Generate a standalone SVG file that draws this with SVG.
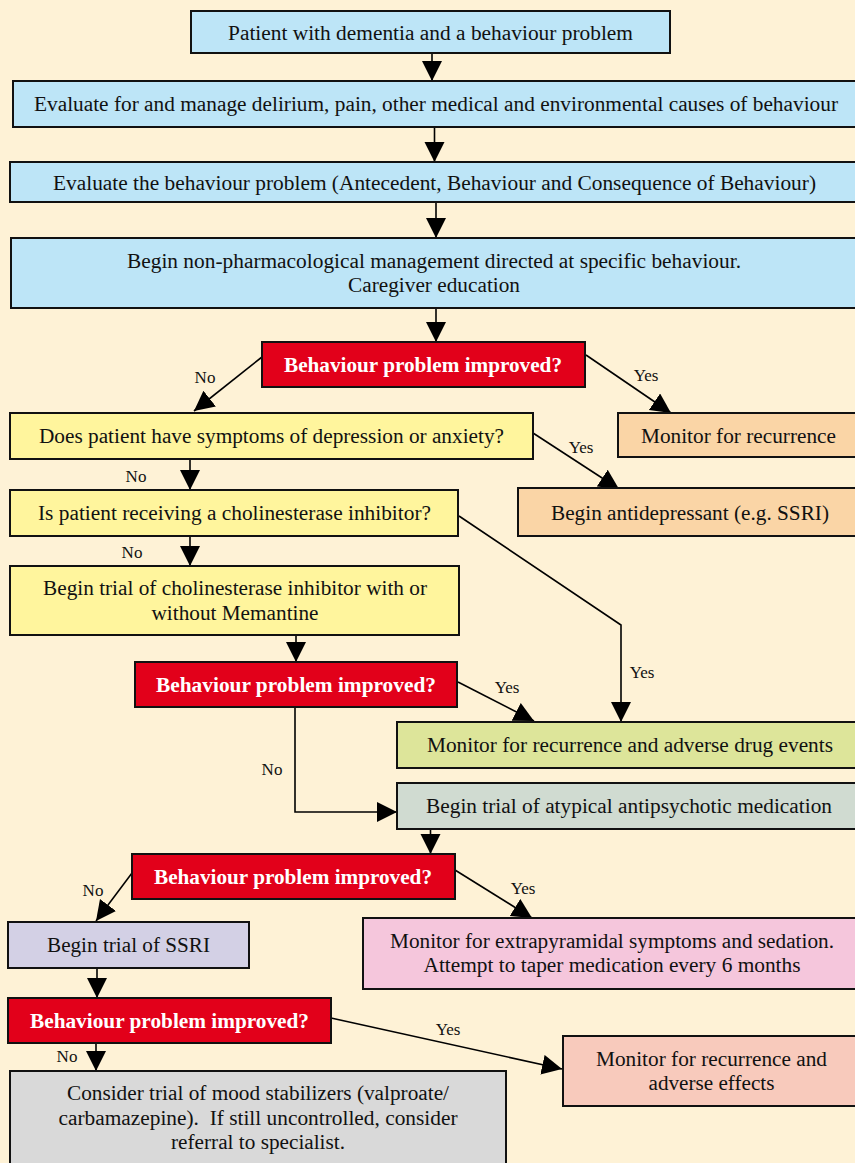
<svg xmlns="http://www.w3.org/2000/svg" width="855" height="1163" viewBox="0 0 855 1163">
<defs>
<marker id="ah" markerUnits="userSpaceOnUse" markerWidth="22" markerHeight="22" refX="20" refY="10" orient="auto">
<path d="M0,0 L20,10 L0,20 z" fill="#000"/>
</marker>
<style>
.bx{stroke:#111;stroke-width:2}
.blue{fill:#BDE5F7}
.red{fill:#E2001A}
.yel{fill:#FFF59D}
.org{fill:#FAD5A6}
.grn{fill:#DDE59A}
.gg{fill:#D0DBD1}
.lav{fill:#D3D0E5}
.pink{fill:#F5C6DC}
.sal{fill:#F8CABC}
.gry{fill:#D9D9D9}
.t{font-family:"Liberation Serif","Times New Roman",Tinos,serif;font-size:20.5px;fill:#111;text-anchor:middle}
.rt{font-family:"Liberation Serif","Times New Roman",Tinos,serif;font-size:21px;font-weight:bold;fill:#fff;text-anchor:middle}
.lb{font-family:"Liberation Serif","Times New Roman",Tinos,serif;font-size:17px;fill:#111;text-anchor:middle}
.c{stroke:#000;stroke-width:1.6;fill:none;marker-end:url(#ah)}
</style>
</defs>
<rect width="855" height="1163" fill="#FEF2D6"/>

<g id="connectors">
<line class="c" x1="432" y1="53" x2="432" y2="81"/>
<line class="c" x1="434.5" y1="127" x2="434.5" y2="162"/>
<line class="c" x1="436" y1="202" x2="436" y2="238"/>
<line class="c" x1="436" y1="308" x2="436" y2="342"/>
<line class="c" x1="262" y1="357" x2="194" y2="411"/>
<line class="c" x1="586" y1="355" x2="671" y2="413"/>
<line class="c" x1="190" y1="459" x2="190" y2="490"/>
<line class="c" x1="533" y1="433" x2="619" y2="489"/>
<line class="c" x1="190" y1="536" x2="190" y2="566"/>
<polyline class="c" points="459,516 621,625 621,722"/>
<line class="c" x1="296" y1="635" x2="296" y2="662"/>
<line class="c" x1="458" y1="682" x2="534" y2="721"/>
<polyline class="c" points="295,707 295,812 397,812"/>
<line class="c" x1="430.5" y1="829" x2="430.5" y2="854"/>
<line class="c" x1="132" y1="873" x2="96" y2="921"/>
<line class="c" x1="455" y1="870" x2="532" y2="918"/>
<line class="c" x1="97" y1="968" x2="97" y2="998"/>
<line class="c" x1="96" y1="1044" x2="96" y2="1071"/>
<line class="c" x1="331" y1="1018" x2="562" y2="1069"/>
<text class="lb" x="205" y="383">No</text>
<text class="lb" x="646" y="381">Yes</text>
<text class="lb" x="136" y="482">No</text>
<text class="lb" x="581" y="453">Yes</text>
<text class="lb" x="132" y="558">No</text>
<text class="lb" x="642" y="678">Yes</text>
<text class="lb" x="507" y="693">Yes</text>
<text class="lb" x="272" y="775">No</text>
<text class="lb" x="93" y="896">No</text>
<text class="lb" x="523" y="894">Yes</text>
<text class="lb" x="67" y="1062">No</text>
<text class="lb" x="448" y="1035">Yes</text>
</g>

<g id="n1"><rect class="bx blue" x="191" y="11" width="479" height="42"/><text class="t" x="430.5" y="40" textLength="405" lengthAdjust="spacingAndGlyphs">Patient with dementia and a behaviour problem</text></g>
<g id="n2"><rect class="bx blue" x="13" y="81" width="850" height="46"/><text class="t" x="436" y="111" textLength="804" lengthAdjust="spacingAndGlyphs">Evaluate for and manage delirium, pain, other medical and environmental causes of behaviour</text></g>
<g id="n3"><rect class="bx blue" x="10" y="162" width="853" height="40"/><text class="t" x="434.5" y="190" textLength="763" lengthAdjust="spacingAndGlyphs">Evaluate the behaviour problem (Antecedent, Behaviour and Consequence of Behaviour)</text></g>
<g id="n4"><rect class="bx blue" x="11" y="238" width="852" height="70"/><text class="t" x="434" y="268" textLength="614" lengthAdjust="spacingAndGlyphs">Begin non-pharmacological management directed at specific behaviour.</text><text class="t" x="434" y="292" textLength="172" lengthAdjust="spacingAndGlyphs">Caregiver education</text></g>
<g id="n5"><rect class="bx red" x="262" y="342" width="323" height="45"/><text class="rt" x="423" y="372" textLength="278" lengthAdjust="spacingAndGlyphs">Behaviour problem improved?</text></g>
<g id="n6"><rect class="bx yel" x="10" y="413" width="523" height="46"/><text class="t" x="271.5" y="443" textLength="465" lengthAdjust="spacingAndGlyphs">Does patient have symptoms of depression or anxiety?</text></g>
<g id="n7"><rect class="bx org" x="618" y="413" width="245" height="44"/><text class="t" x="738.5" y="443" textLength="195" lengthAdjust="spacingAndGlyphs">Monitor for recurrence</text></g>
<g id="n8"><rect class="bx yel" x="10" y="490" width="448" height="46"/><text class="t" x="234.5" y="520" textLength="393" lengthAdjust="spacingAndGlyphs">Is patient receiving a cholinesterase inhibitor?</text></g>
<g id="n9"><rect class="bx org" x="518" y="488" width="345" height="48"/><text class="t" x="690" y="520" textLength="278" lengthAdjust="spacingAndGlyphs">Begin antidepressant (e.g. SSRI)</text></g>
<g id="n10"><rect class="bx yel" x="10" y="566" width="449" height="69"/><text class="t" x="235" y="595" textLength="384" lengthAdjust="spacingAndGlyphs">Begin trial of cholinesterase inhibitor with or</text><text class="t" x="235" y="620" textLength="167" lengthAdjust="spacingAndGlyphs">without Memantine</text></g>
<g id="n11"><rect class="bx red" x="135" y="662" width="322" height="45"/><text class="rt" x="296" y="692" textLength="280" lengthAdjust="spacingAndGlyphs">Behaviour problem improved?</text></g>
<g id="n12"><rect class="bx grn" x="397" y="722" width="466" height="46"/><text class="t" x="630" y="752" textLength="406" lengthAdjust="spacingAndGlyphs">Monitor for recurrence and adverse drug events</text></g>
<g id="n13"><rect class="bx gg" x="397" y="783" width="466" height="46"/><text class="t" x="629" y="813" textLength="406" lengthAdjust="spacingAndGlyphs">Begin trial of atypical antipsychotic medication</text></g>
<g id="n14"><rect class="bx red" x="132" y="854" width="323" height="45"/><text class="rt" x="293" y="884" textLength="278" lengthAdjust="spacingAndGlyphs">Behaviour problem improved?</text></g>
<g id="n15"><rect class="bx lav" x="8" y="922" width="241" height="46"/><text class="t" x="128.5" y="952" textLength="163" lengthAdjust="spacingAndGlyphs">Begin trial of SSRI</text></g>
<g id="n16"><rect class="bx pink" x="363" y="918" width="500" height="71"/><text class="t" x="612" y="948" textLength="444" lengthAdjust="spacingAndGlyphs">Monitor for extrapyramidal symptoms and sedation.</text><text class="t" x="612" y="972" textLength="377" lengthAdjust="spacingAndGlyphs">Attempt to taper medication every 6 months</text></g>
<g id="n17"><rect class="bx red" x="8" y="998" width="323" height="45"/><text class="rt" x="169.5" y="1028" textLength="279" lengthAdjust="spacingAndGlyphs">Behaviour problem improved?</text></g>
<g id="n18"><rect class="bx sal" x="563" y="1036" width="300" height="70"/><text class="t" x="711.5" y="1066" textLength="231" lengthAdjust="spacingAndGlyphs">Monitor for recurrence and</text><text class="t" x="711.5" y="1090" textLength="126" lengthAdjust="spacingAndGlyphs">adverse effects</text></g>
<g id="n19"><rect class="bx gry" x="10" y="1071" width="496" height="100"/><text class="t" x="258" y="1100" textLength="382" lengthAdjust="spacingAndGlyphs">Consider trial of mood stabilizers (valproate/</text><text class="t" x="258" y="1125" textLength="399" lengthAdjust="spacingAndGlyphs">carbamazepine).&#160; If still uncontrolled, consider</text><text class="t" x="258" y="1149" textLength="174" lengthAdjust="spacingAndGlyphs">referral to specialist.</text></g>
</svg>
